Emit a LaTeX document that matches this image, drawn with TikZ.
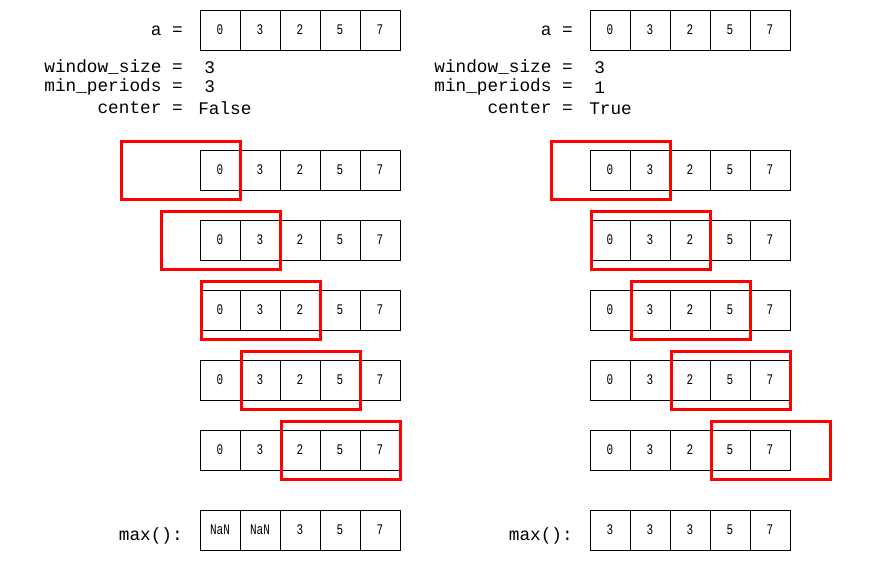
\documentclass[tikz,border=0pt]{standalone}
\usepackage{fontspec}
\setmonofont{Liberation Mono}
\newfontfamily\cellfont[FakeStretch=0.75]{Liberation Mono}
\usetikzlibrary{positioning}

% egy sor cella: nev, bal szel, kozep y, ertekek
\newcommand{\cellrow}[4]{%
  \foreach \v [count=\i] in {#4}
    \node[cell] (#1\i) at ({#2+40*\i-20},#3) {\v};}

\begin{document}
\begin{tikzpicture}[x=0.75pt,y=-0.75pt,
cell/.style={draw,rectangle,line width=0.75pt,minimum size=30pt,inner sep=0pt,
  font=\cellfont\fontsize{11}{12}\selectfont},
lbl/.style={font=\ttfamily\fontsize{13.3}{15}\selectfont,inner sep=0pt},
window/.style={draw=red,line width=2.25pt}]

\useasboundingbox (0,0) rectangle (881,561);

% bal oldal: center = False
\node[lbl,anchor=base east] (aL) at (183,35) {a =};
\node[lbl,anchor=base east] (wsL) at (183,72) {window\_size =};
\node[lbl,anchor=base east] (mpL) at (183,91) {min\_periods =};
\node[lbl,anchor=base east] (ceL) at (183,113) {center =};
\node[lbl,anchor=base west] (wsvL) at (204,73) {3};
\node[lbl,anchor=base west] (mpvL) at (204,92) {3};
\node[lbl,anchor=base west] (cevL) at (198,114) {False};

\cellrow{aL}{200}{30}{0,3,2,5,7}
\foreach \k in {1,...,5} {
  \cellrow{rL\k-}{200}{100+70*\k}{0,3,2,5,7}
}
\node[lbl,anchor=base east] (maxL) at (183,540) {max():};
\cellrow{mL}{200}{530}{NaN,NaN,3,5,7}

% jobb oldal: center = True
\node[lbl,anchor=base east] (aR) at (573,35) {a =};
\node[lbl,anchor=base east] (wsR) at (573,72) {window\_size =};
\node[lbl,anchor=base east] (mpR) at (573,91) {min\_periods =};
\node[lbl,anchor=base east] (ceR) at (573,113) {center =};
\node[lbl,anchor=base west] (wsvR) at (594,73) {3};
\node[lbl,anchor=base west] (mpvR) at (594,93) {1};
\node[lbl,anchor=base west] (cevR) at (589,114) {True};

\cellrow{aR}{590}{30}{0,3,2,5,7}
\foreach \k in {1,...,5} {
  \cellrow{rR\k-}{590}{100+70*\k}{0,3,2,5,7}
}
\node[lbl,anchor=base east] (maxR) at (573,540) {max():};
\cellrow{mR}{590}{530}{3,3,3,5,7}

% ablakok
\foreach \k in {0,...,4} {
  \draw[window] ({121+40*\k},{141+70*\k}) rectangle ++(119,58.5);
  \draw[window] ({551+40*\k},{141+70*\k}) rectangle ++(119,58.5);
}
\end{tikzpicture}
\end{document}
